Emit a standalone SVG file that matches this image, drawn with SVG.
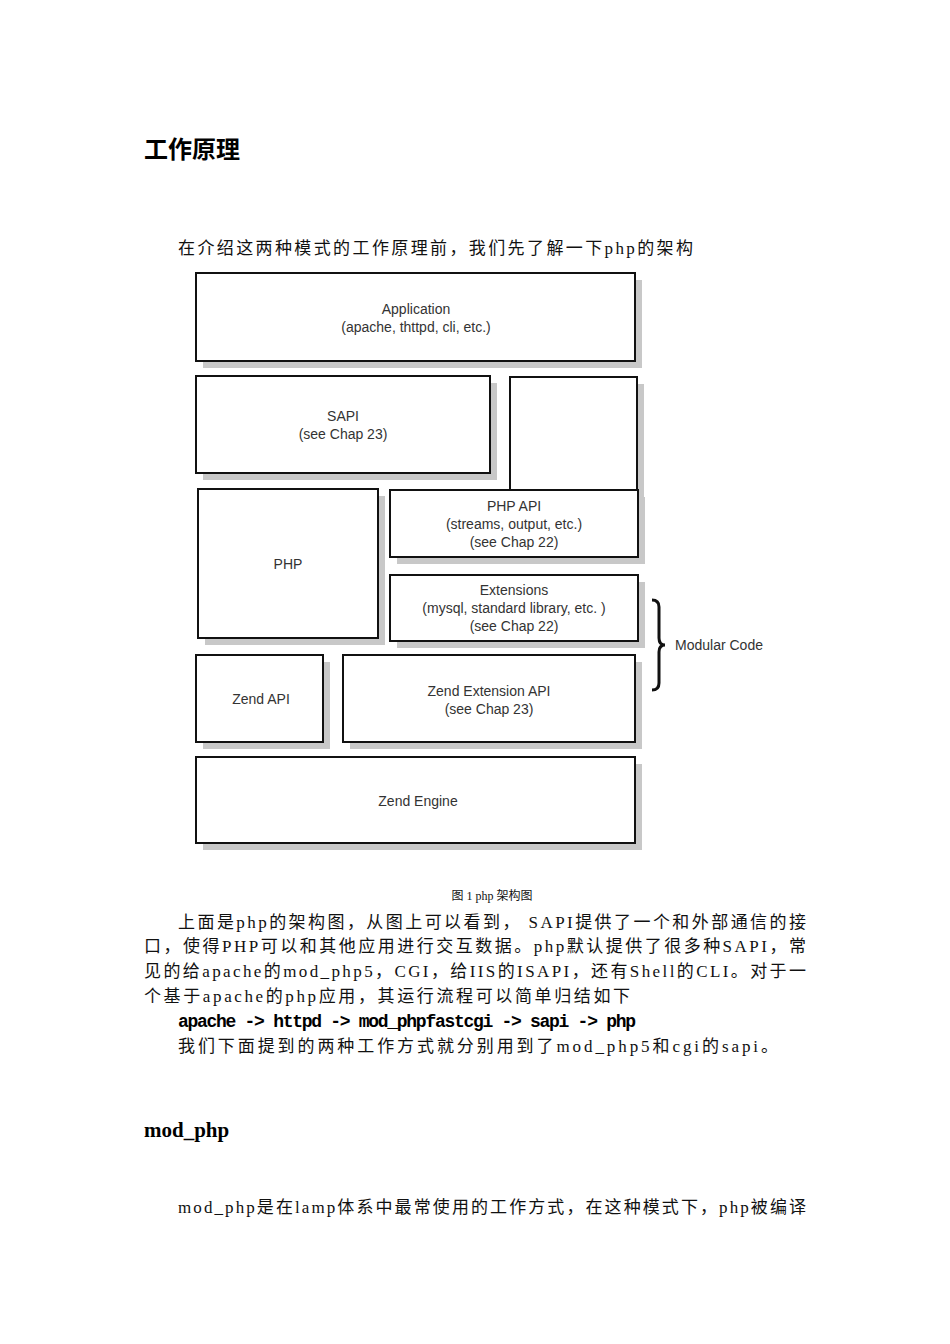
<svg xmlns="http://www.w3.org/2000/svg" width="950" height="1344" viewBox="0 0 950 1344">
<style>
.t{font-family:"Liberation Serif","Noto Sans CJK SC",serif;font-size:17px;fill:#111}
.h{font-family:"Liberation Serif","Noto Sans CJK SC",serif;font-weight:bold;fill:#000}
.b{fill:#fff;stroke:#111;stroke-width:2}
.s{fill:#c8c8c8}
.l{font-family:"Liberation Sans",Arial,sans-serif;font-size:14px;fill:#333;text-anchor:middle}
</style>
<rect width="950" height="1344" fill="#fff"/>
<text class="h" x="144" y="158" font-size="24">工作原理</text>
<text class="t" x="178" y="254" textLength="515">在介绍这两种模式的工作原理前，我们先了解一下php的架构</text>
<g id="application"><rect class="s" x="203" y="280" width="439" height="88"/><rect class="b" x="196" y="273" width="439" height="88"/><text class="l" x="416" y="314">Application</text><text class="l" x="416" y="332">(apache, thttpd, cli, etc.)</text></g>
<g id="sapi"><rect class="s" x="203" y="383" width="294" height="97"/><rect class="b" x="196" y="376" width="294" height="97"/><text class="l" x="343" y="421">SAPI</text><text class="l" x="343" y="439">(see Chap 23)</text></g>
<g id="blank"><rect class="s" x="517" y="384" width="127" height="113"/><rect class="b" x="510" y="377" width="127" height="113"/></g>
<g id="php"><rect class="s" x="205" y="496" width="180" height="149"/><rect class="b" x="198" y="489" width="180" height="149"/><text class="l" x="288" y="569">PHP</text></g>
<g id="phpapi"><rect class="s" x="397" y="497" width="248" height="67"/><rect class="b" x="390" y="490" width="248" height="67"/><text class="l" x="514" y="511">PHP API</text><text class="l" x="514" y="529">(streams, output, etc.)</text><text class="l" x="514" y="547">(see Chap 22)</text></g>
<g id="extensions"><rect class="s" x="397" y="582" width="248" height="66"/><rect class="b" x="390" y="575" width="248" height="66"/><text class="l" x="514" y="595">Extensions</text><text class="l" x="514" y="613">(mysql, standard library, etc. )</text><text class="l" x="514" y="631">(see Chap 22)</text></g>
<g id="zendapi"><rect class="s" x="203" y="662" width="127" height="87"/><rect class="b" x="196" y="655" width="127" height="87"/><text class="l" x="261" y="704">Zend API</text></g>
<g id="zendext"><rect class="s" x="350" y="662" width="292" height="87"/><rect class="b" x="343" y="655" width="292" height="87"/><text class="l" x="489" y="696">Zend Extension API</text><text class="l" x="489" y="714">(see Chap 23)</text></g>
<g id="zendengine"><rect class="s" x="203" y="764" width="439" height="86"/><rect class="b" x="196" y="757" width="439" height="86"/><text class="l" x="418" y="806">Zend Engine</text></g>
<g id="connectors"><path d="M652 600 Q659 600 659 607 L659 638 Q659 645 665 645 Q659 645 659 652 L659 683 Q659 690 652 690" fill="none" stroke="#111" stroke-width="3"/></g>
<g id="modular"><text class="l" x="719" y="650">Modular Code</text></g>
<text class="t" x="492" y="900" style="font-size:12px" text-anchor="middle">图 1 php 架构图</text>
<text class="t" x="178" y="928" textLength="628">上面是php的架构图，从图上可以看到， SAPI提供了一个和外部通信的接</text>
<text class="t" x="144" y="952" textLength="662">口，使得PHP可以和其他应用进行交互数据。php默认提供了很多种SAPI，常</text>
<text class="t" x="144" y="977" textLength="662">见的给apache的mod_php5，CGI，给IIS的ISAPI，还有Shell的CLI。对于一</text>
<text class="t" x="144" y="1002" textLength="486">个基于apache的php应用，其运行流程可以简单归结如下</text>
<text x="178" y="1027" style="font-family:'Liberation Mono',monospace;font-weight:bold;font-size:18px;fill:#000" textLength="458">apache -&gt; httpd -&gt; mod_phpfastcgi -&gt; sapi -&gt; php</text>
<text class="t" x="178" y="1052" textLength="600">我们下面提到的两种工作方式就分别用到了mod_php5和cgi的sapi。</text>
<text class="h" x="144" y="1137" font-size="21">mod_php</text>
<text class="t" x="178" y="1213" textLength="628">mod_php是在lamp体系中最常使用的工作方式，在这种模式下，php被编译</text>
</svg>
